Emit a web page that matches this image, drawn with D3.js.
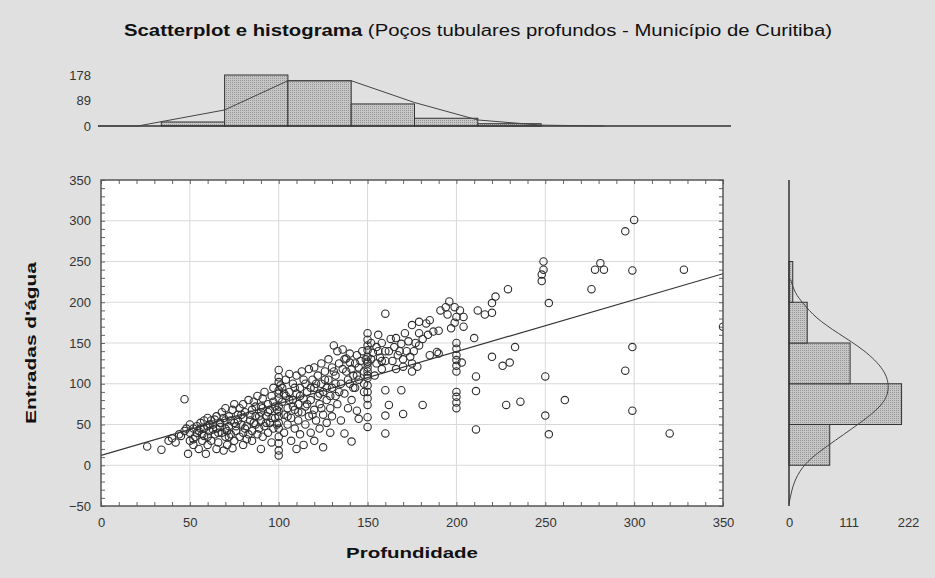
<!DOCTYPE html>
<html>
<head>
<meta charset="utf-8">
<script src="https://cdn.jsdelivr.net/npm/d3@7"></script>
<style>
  body { margin: 0; background: #e0e0e0; }
  svg { display: block; font-family: "Liberation Sans", Arial, sans-serif; }
</style>
</head>
<body>
<svg id="chart" width="935" height="578"></svg>
<script>
// Pontos: [profundidade, entradas d'água]
const pontos = [
  [26,23],[34,19],[38,30],[40,33],[42,28],[44,38],[45,36],[47,81],[47,42],
  [48,45],[49,14],[50,30],[50,40],[50,50],[52,25],[52,45],[53,35],[54,48],[55,20],[55,42],
  [56,52],[57,30],[57,38],[58,45],[58,55],[59,14],[60,25],[60,35],[60,48],[60,58],
  [61,42],[62,30],[62,55],[63,50],[64,38],[65,20],[65,45],[65,60],[66,28],[67,52],[68,40],
  [68,65],[69,18],[70,35],[70,45],[70,55],[70,70],[71,25],[72,60],[72,48],[73,38],[74,21],
  [74,68],[75,30],[75,52],[75,75],
  [76,42],[77,62],[78,35],[78,70],[79,50],[80,25],[80,40],[80,58],[80,75],[81,65],[82,32],
  [82,48],[83,80],[84,55],[85,30],[85,42],[85,68],[86,78],[87,50],[87,60],[88,38],[88,85],
  [89,45],[90,20],[90,55],[90,65],[90,72],
  [91,35],[91,82],[92,48],[92,90],[93,60],[94,40],[94,75],[95,52],[95,68],[96,28],[96,85],
  [97,45],[97,95],[98,58],[98,72],
  [100,117],[100,102],[100,92],[100,82],[100,72],[100,60],[100,45],[100,35],[100,27],
  [100,18],[100,12],[100,52],[100,66],[100,88],[100,108],
  [102,78],[102,95],[103,40],[103,62],[104,85],[104,105],[105,50],[105,70],[106,90],[106,112],
  [107,30],[107,58],[108,80],[108,100],[109,45],[109,68],[110,88],[110,110],[110,20],[111,55],
  [111,75],[112,95],[112,38],[113,65],[113,115],[114,82],[114,25],[115,50],[115,100],[115,72],
  [116,90],[117,60],[117,118],[118,40],[118,80],[119,105],[120,68],[120,95],[120,120],[120,30],
  [121,55],[122,85],[122,110],[123,45],[123,75],[124,100],[124,125],[125,62],[125,90],[125,22],
  [126,115],[127,80],[127,52],[128,105],[128,130],[129,70],[129,40],[130,95],[130,120],[130,60],
  [131,147],[132,85],[132,110],[133,140],[133,75],[134,125],[135,100],[135,55],[136,142],[137,39],
  [137,88],[138,131],[138,115],[139,70],[140,126],[140,100],[140,137],[141,29],[141,80],[142,110],
  [143,125],[143,95],[144,67],[144,135],[145,57],[145,105],[145,120],
  [147,140],[148,115],[148,90],[149,130],[150,162],[150,154],[150,147],[150,141],[150,133],
  [150,127],[150,125],[150,115],[150,107],[150,98],[150,90],[150,82],[150,74],[150,59],[150,47],
  [150,120],[150,110],[152,150],[153,138],[155,125],[155,145],[156,160],[157,132],[158,118],
  [158,150],[160,186],[160,92],[160,61],[160,39],[160,140],[160,128],
  [162,74],[163,155],[165,145],[166,156],[167,135],[169,149],[169,92],[170,63],[170,130],
  [171,162],[172,140],[174,133],[170,121],[175,115],[178,121],[175,172],[175,125],[177,150],
  [179,176],[179,162],[179,147],[181,74],[183,174],[185,178],[185,135],[187,164],[189,139],
  [190,165],[190,137],[191,190],
  [194,194],[196,201],[199,194],[202,190],[195,185],[200,182],[204,182],[199,175],[204,170],
  [197,168],[200,150],[200,143],[200,135],[200,129],[200,122],[200,115],[203,126],[200,90],
  [200,84],[200,77],[200,70],[210,156],
  [211,109],[211,91],[211,44],[212,190],[216,185],[220,187],[220,199],[222,207],[220,133],
  [226,122],[230,126],[229,216],[233,145],[228,74],[236,78],[249,250],[249,240],[248,234],
  [248,226],[252,199],[250,109],[250,61],[252,38],[261,80],
  [276,216],[278,240],[281,248],[283,240],[295,287],[300,301],[299,239],[328,240],[299,145],
  [295,116],[299,67],[320,39],[350,170],
  [52,32],[54,40],[56,45],[58,36],[61,50],[63,44],[64,56],[66,40],[67,47],[69,58],[71,42],
  [72,35],[73,55],[76,48],[77,55],[79,62],[81,45],[83,38],[84,62],[86,52],[87,72],[89,60],
  [91,70],[93,52],[94,65],[96,58],[97,78],[99,50],[99,68],[101,98],[103,88],[105,60],[106,80],
  [108,72],[109,95],[111,65],[112,85],[114,105],[116,75],[118,95],[119,62],[121,100],[123,88],
  [124,70],[126,105],[127,95],[129,85],[131,115],[132,100],[134,90],[136,118],[137,130],
  [139,105],[141,118],[142,95],[144,110],[146,128],[148,100],[152,130],[154,110],[156,140],
  [158,128],[162,140],[164,128],[166,118],[168,140],[173,152],[176,140],[181,155],[184,160]
];

// Reta de regressão (extremos lidos)
const regX = [0, 350];
const regY = [12, 235];

// Eixos do scatterplot
const xTicks = [0, 50, 100, 150, 200, 250, 300, 350];
const yTicks = [-50, 0, 50, 100, 150, 200, 250, 300, 350];

// Histograma superior (profundidade), classes de 35 m
const histTopoInicio = [35, 70, 105, 140, 175, 210];
const histTopoFreq = [14, 178, 158, 77, 27, 8];
const histTopoTicks = [0, 89, 178];
const curvaTopoX = [0, 22, 70, 105, 140, 175, 210, 245, 280];
const curvaTopoFreq = [0, 0, 56, 158, 158, 82, 21, 3, 0];

// Histograma lateral (entradas d'água), classes de 50
const histDirInicio = [0, 50, 100, 150, 200];
const histDirFreq = [76, 210, 114, 34, 7];
const histDirTicks = [0, 111, 222];
const curvaDirValor = [-47, -31, -18, 2, 22, 53, 76, 96, 117, 141, 162, 181, 199, 211, 228];
const curvaDirFreq = [0, 5, 11, 28, 67, 136, 179, 188, 179, 142, 91, 49, 26, 11, 3];

const svg = d3.select("#chart");

// padrão de preenchimento pontilhado das barras
const defs = svg.append("defs");
const pat = defs.append("pattern")
  .attr("id", "pontilhado")
  .attr("width", 2).attr("height", 2)
  .attr("patternUnits", "userSpaceOnUse");
pat.append("rect").attr("width", 2).attr("height", 2).attr("fill", "#c6c6c6");
pat.append("rect").attr("width", 1).attr("height", 1).attr("fill", "#969696");

// escalas
const x = d3.scaleLinear().domain([0, 350]).range([101, 723]);
const y = d3.scaleLinear().domain([-50, 350]).range([506, 180]);
const xTopo = d3.scaleLinear().domain([0, 350]).range([98, 731]);
const yTopo = d3.scaleLinear().domain([0, 178]).range([126, 75]);
const xDir = d3.scaleLinear().domain([0, 222]).range([789, 908]);

// título (o original tem letras largas)
const titulo = svg.append("text")
  .attr("x", 478).attr("y", 36)
  .attr("text-anchor", "middle")
  .attr("textLength", 708)
  .attr("lengthAdjust", "spacingAndGlyphs")
  .style("font-size", "16px")
  .style("fill", "#111");
titulo.append("tspan").style("font-weight", "bold").text("Scatterplot e histograma");
titulo.append("tspan").text(" (Poços tubulares profundos - Município de Curitiba)");

// ---- área do scatterplot ----
svg.append("rect")
  .attr("x", x(0)).attr("y", y(350))
  .attr("width", x(350) - x(0)).attr("height", y(-50) - y(350))
  .attr("fill", "#fff");

// grade
svg.append("g").selectAll("line")
  .data(xTicks.slice(1, -1))
  .join("line")
  .attr("x1", d => x(d)).attr("x2", d => x(d))
  .attr("y1", y(350)).attr("y2", y(-50))
  .attr("stroke", "#d9d9d9");
svg.append("g").selectAll("line")
  .data(yTicks.slice(1, -1))
  .join("line")
  .attr("y1", d => y(d)).attr("y2", d => y(d))
  .attr("x1", x(0)).attr("x2", x(350))
  .attr("stroke", "#d9d9d9");

// marcas menores nos quatro lados
const menorX = d3.range(0, 351, 10);
const menorY = d3.range(-50, 351, 10);
function marcas(g) {
  g.select(".domain").remove();
  g.selectAll("line").attr("stroke", "#666");
}
svg.append("g").attr("transform", `translate(0,${y(-50)})`)
  .call(d3.axisBottom(x).tickValues(menorX).tickSize(-4).tickFormat("")).call(marcas);
svg.append("g").attr("transform", `translate(0,${y(350)})`)
  .call(d3.axisTop(x).tickValues(menorX).tickSize(-4).tickFormat("")).call(marcas);
svg.append("g").attr("transform", `translate(${x(0)},0)`)
  .call(d3.axisLeft(y).tickValues(menorY).tickSize(-4).tickFormat("")).call(marcas);
svg.append("g").attr("transform", `translate(${x(350)},0)`)
  .call(d3.axisRight(y).tickValues(menorY).tickSize(-4).tickFormat("")).call(marcas);

// pontos (recortados pela moldura)
defs.append("clipPath").attr("id", "recorte")
  .append("rect")
  .attr("x", x(0)).attr("y", y(350))
  .attr("width", x(350) - x(0)).attr("height", y(-50) - y(350));

const gPontos = svg.append("g").attr("clip-path", "url(#recorte)");
gPontos.selectAll("circle")
  .data(pontos)
  .join("circle")
  .attr("cx", d => x(d[0]))
  .attr("cy", d => y(d[1]))
  .attr("r", 3.7)
  .attr("fill", "none")
  .attr("stroke", "#2e2e2e")
  .attr("stroke-width", 1.1);

// reta de regressão
gPontos.append("line")
  .attr("x1", x(regX[0])).attr("y1", y(regY[0]))
  .attr("x2", x(regX[1])).attr("y2", y(regY[1]))
  .attr("stroke", "#333")
  .attr("stroke-width", 1.2);

// moldura
svg.append("rect")
  .attr("x", x(0)).attr("y", y(350))
  .attr("width", x(350) - x(0)).attr("height", y(-50) - y(350))
  .attr("fill", "none")
  .attr("stroke", "#555")
  .attr("stroke-width", 1.5);

// rótulos dos eixos
function rotulos(g) {
  g.select(".domain").remove();
  g.selectAll(".tick line").remove();
  g.selectAll("text")
    .style("font-size", "13px")
    .style("font-family", "\"Liberation Sans\", Arial, sans-serif")
    .attr("fill", "#333");
}
svg.append("g").attr("transform", `translate(0,${y(-50)})`)
  .call(d3.axisBottom(x).tickValues(xTicks).tickSize(0).tickPadding(12)).call(rotulos);
svg.append("g").attr("transform", `translate(${x(0)},0)`)
  .call(d3.axisLeft(y).tickValues(yTicks).tickSize(0).tickPadding(10)).call(rotulos);

svg.append("text")
  .attr("x", (x(0) + x(350)) / 2).attr("y", 558)
  .attr("text-anchor", "middle")
  .attr("textLength", 132)
  .attr("lengthAdjust", "spacingAndGlyphs")
  .style("font-size", "15px").style("font-weight", "bold").style("fill", "#111")
  .text("Profundidade");

svg.append("text")
  .attr("transform", `translate(36,${(y(350) + y(-50)) / 2}) rotate(-90)`)
  .attr("text-anchor", "middle")
  .attr("textLength", 162)
  .attr("lengthAdjust", "spacingAndGlyphs")
  .style("font-size", "15px").style("font-weight", "bold").style("fill", "#111")
  .text("Entradas d'água");

// ---- histograma superior ----
svg.append("g").selectAll("rect")
  .data(histTopoInicio)
  .join("rect")
  .attr("x", d => xTopo(d))
  .attr("width", d => xTopo(d + 35) - xTopo(d))
  .attr("y", (d, i) => yTopo(histTopoFreq[i]))
  .attr("height", (d, i) => yTopo(0) - yTopo(histTopoFreq[i]))
  .attr("fill", "url(#pontilhado)")
  .attr("stroke", "#333")
  .attr("stroke-width", 1);

svg.append("line")
  .attr("x1", xTopo(0)).attr("x2", xTopo(350))
  .attr("y1", yTopo(0)).attr("y2", yTopo(0))
  .attr("stroke", "#333").attr("stroke-width", 1.5);

svg.append("path")
  .datum(curvaTopoX.map((v, i) => [v, curvaTopoFreq[i]]))
  .attr("d", d3.line().x(d => xTopo(d[0])).y(d => yTopo(d[1])))
  .attr("fill", "none")
  .attr("stroke", "#444")
  .attr("stroke-width", 1);

svg.append("g").attr("transform", `translate(${x(0)},0)`)
  .call(d3.axisLeft(yTopo).tickValues(histTopoTicks).tickSize(0).tickPadding(10)).call(rotulos);

// ---- histograma lateral ----
svg.append("g").selectAll("rect")
  .data(histDirInicio)
  .join("rect")
  .attr("x", xDir(0))
  .attr("y", d => y(d + 50))
  .attr("height", d => y(d) - y(d + 50))
  .attr("width", (d, i) => xDir(histDirFreq[i]) - xDir(0))
  .attr("fill", "url(#pontilhado)")
  .attr("stroke", "#333")
  .attr("stroke-width", 1);

svg.append("path")
  .datum(curvaDirValor.map((v, i) => [curvaDirFreq[i], v]))
  .attr("d", d3.line().curve(d3.curveBasis).x(d => xDir(d[0])).y(d => y(d[1])))
  .attr("fill", "none")
  .attr("stroke", "#444")
  .attr("stroke-width", 1);

svg.append("line")
  .attr("x1", xDir(0)).attr("x2", xDir(0))
  .attr("y1", y(350)).attr("y2", y(-50))
  .attr("stroke", "#333").attr("stroke-width", 1.5);

svg.append("g").attr("transform", `translate(0,${y(-50)})`)
  .call(d3.axisBottom(xDir).tickValues(histDirTicks).tickSize(0).tickPadding(12)).call(rotulos);
</script>
</body>
</html>
